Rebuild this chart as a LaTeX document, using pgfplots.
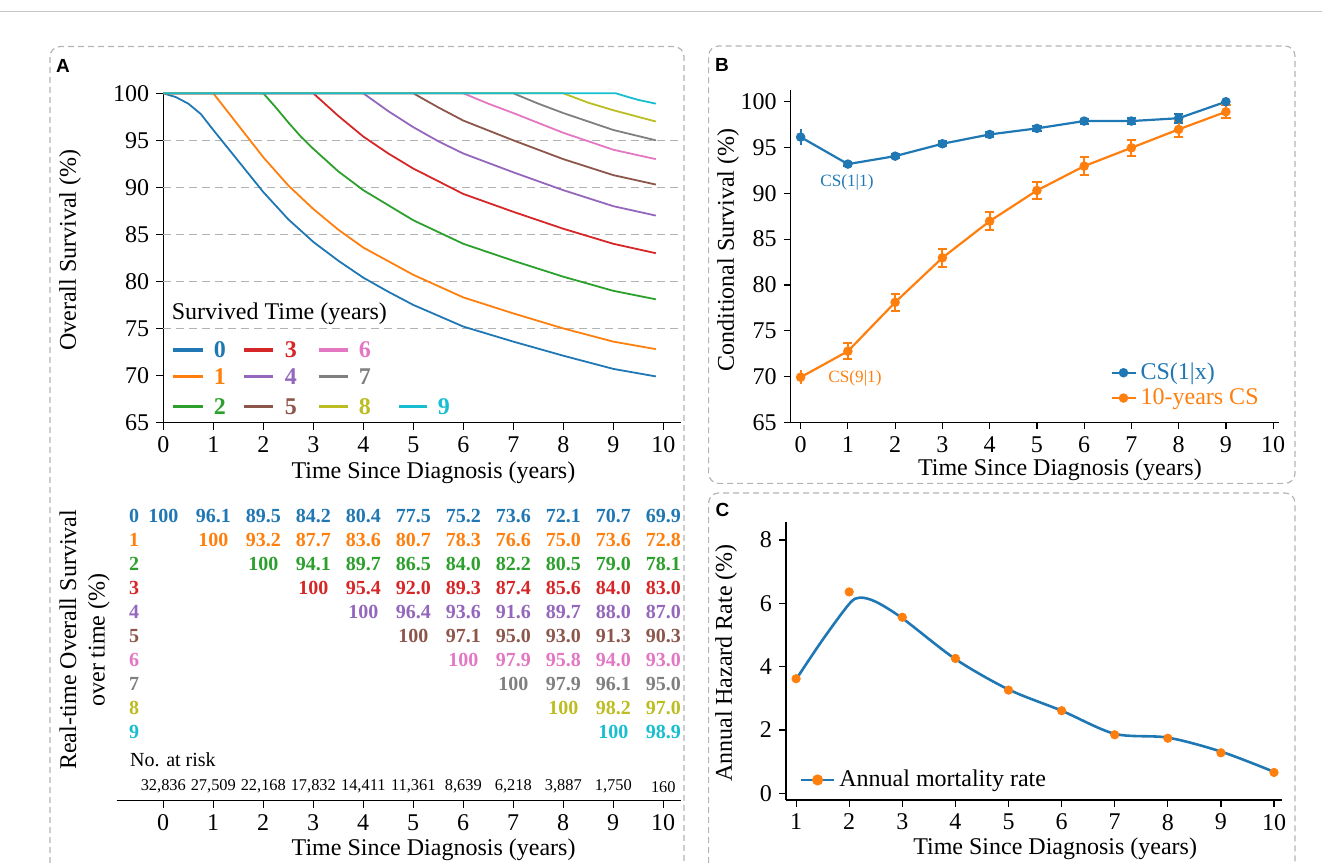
\documentclass[border=0pt]{standalone}
\usepackage{fontspec}
\setmainfont{Liberation Serif}
\newfontfamily\panelfont{Liberation Sans}
\usepackage{pgfplots}
\pgfplotsset{compat=1.18}
\definecolor{c0}{HTML}{1F77B4}
\definecolor{c1}{HTML}{FF7F0E}
\definecolor{c2}{HTML}{2CA02C}
\definecolor{c3}{HTML}{D62728}
\definecolor{c4}{HTML}{9467BD}
\definecolor{c5}{HTML}{8C564B}
\definecolor{c6}{HTML}{E377C2}
\definecolor{c7}{HTML}{7F7F7F}
\definecolor{c8}{HTML}{BCBD22}
\definecolor{c9}{HTML}{17BECF}
\definecolor{cB}{HTML}{1F77B4}
\definecolor{cO}{HTML}{FF7F0E}
\definecolor{framegray}{HTML}{B4B4B4}
\pgfplotsset{
  myaxis/.style={scale only axis, anchor=south west,
    axis x line*=bottom, axis y line*=left,
    axis line style={-, line width=0.7pt},
    tick align=outside, major tick length=3.5pt,
    tick style={black, line width=0.6pt},
    /pgf/number format/assume math mode=true,
    tick label style={font=\fontsize{12}{14}\selectfont},
    label style={font=\fontsize{12}{14}\selectfont},
    clip=false},
  ebar/.style={only marks, mark=*, mark size=1.8pt, forget plot,
    error bars/.cd, y dir=both, y explicit,
    error bar style={line width=1pt, solid},
    error mark=-, error mark options={line width=1pt, mark size=2.3pt, rotate=90}},
  ebarnocap/.style={only marks, mark=*, mark size=1.8pt, forget plot,
    error bars/.cd, y dir=both, y explicit,
    error bar style={line width=1pt, solid}, error mark=none},
}
\begin{document}
\begin{tikzpicture}
\useasboundingbox (0,0) rectangle (661pt,431.5pt);
% top rule and frames
\draw[black!22, line width=0.5pt] (0,425.5pt) -- (661pt,425.5pt);
\draw[framegray, line width=0.6pt, dash pattern=on 3pt off 2pt, rounded corners=5pt] (25pt,-5pt) -- (25pt,408.2pt) -- (342pt,408.2pt) -- (342pt,-5pt);
\draw[framegray, line width=0.6pt, dash pattern=on 3pt off 2pt, rounded corners=5pt] (354.3pt,189.8pt) rectangle (647.5pt,408.5pt);
\draw[framegray, line width=0.6pt, dash pattern=on 3pt off 2pt, rounded corners=5pt] (354.3pt,-5pt) -- (354.3pt,185pt) -- (647.5pt,185pt) -- (647.5pt,-5pt);
\node[font=\panelfont\bfseries\fontsize{9.5}{11}\selectfont] at (31.5pt,398.5pt) {A};
\node[font=\panelfont\bfseries\fontsize{9.5}{11}\selectfont] at (361pt,399pt) {B};
\node[font=\panelfont\bfseries\fontsize{9.5}{11}\selectfont] at (361.3pt,176.5pt) {C};

% ---------------- Panel A (survival curves)
\begin{axis}[myaxis, at={(81.65pt,220.25pt)}, width=258.75pt, height=164.6pt,
  xmin=0, xmax=10.35, ymin=65, ymax=100,
  xtick={0,...,10}, ytick={65,70,...,100},
  extra y ticks={75,80,85,90,95}, extra y tick labels={},
  extra y tick style={grid=major, major tick length=0pt,
     major grid style={dash pattern=on 4pt off 2.5pt, black!30, line width=0.6pt}},
  xlabel={Time Since Diagnosis (years)}, ylabel={Overall Survival (\%)},
  xlabel style={at={(axis description cs:0.522,-0.153)}, anchor=center},
  ylabel style={at={(axis description cs:-0.180,0.524)}, anchor=center}]
\addplot[c0, line width=0.9pt] coordinates {(0,100)(0.25,99.6)(0.5,98.9)(0.75,97.8)(1,96.1)(1.5,92.8)(2,89.5)(2.5,86.6)(3,84.2)(3.5,82.2)(4,80.4)(4.5,78.9)(5,77.5)(6,75.2)(7,73.6)(8,72.1)(9,70.7)(9.85,69.9)};
\addplot[c1, line width=0.9pt] coordinates {(0,100)(1,100)(1.25,98.3)(1.5,96.6)(1.75,94.9)(2,93.2)(2.5,90.2)(3,87.7)(3.5,85.5)(4,83.6)(5,80.7)(6,78.3)(7,76.6)(8,75.0)(9,73.6)(9.85,72.8)};
\addplot[c2, line width=0.9pt] coordinates {(0,100)(2,100)(2.25,98.5)(2.5,96.9)(2.75,95.4)(3,94.1)(3.5,91.7)(4,89.7)(5,86.5)(6,84.0)(7,82.2)(8,80.5)(9,79.0)(9.85,78.1)};
\addplot[c3, line width=0.9pt] coordinates {(0,100)(3,100)(3.5,97.6)(4,95.4)(4.5,93.6)(5,92.0)(6,89.3)(7,87.4)(8,85.6)(9,84.0)(9.85,83.0)};
\addplot[c4, line width=0.9pt] coordinates {(0,100)(4,100)(4.5,98.1)(5,96.4)(5.5,94.9)(6,93.6)(7,91.6)(8,89.7)(9,88.0)(9.85,87.0)};
\addplot[c5, line width=0.9pt] coordinates {(0,100)(5,100)(5.5,98.5)(6,97.1)(7,95.0)(8,93.0)(9,91.3)(9.85,90.3)};
\addplot[c6, line width=0.9pt] coordinates {(0,100)(6,100)(6.5,98.9)(7,97.9)(8,95.8)(9,94.0)(9.85,93.0)};
\addplot[c7, line width=0.9pt] coordinates {(0,100)(7,100)(7.5,98.9)(8,97.9)(9,96.1)(9.85,95.0)};
\addplot[c8, line width=0.9pt] coordinates {(0,100)(8,100)(8.5,99.0)(9,98.2)(9.85,97.0)};
\addplot[c9, line width=0.9pt] coordinates {(0,100)(9.05,100)(9.3,99.6)(9.5,99.3)(9.85,98.9)};
% legend (survived time)
\node[anchor=west, font=\fontsize{12}{14}\selectfont, inner sep=0pt] at (axis cs:0.164,76.61) {Survived Time (years)};
\draw[c0, line width=1.6pt] (axis cs:0.188,72.71) -- (axis cs:0.802,72.71);
\draw[c1, line width=1.6pt] (axis cs:0.188,69.87) -- (axis cs:0.802,69.87);
\draw[c2, line width=1.6pt] (axis cs:0.188,66.68) -- (axis cs:0.802,66.68);
\draw[c3, line width=1.6pt] (axis cs:1.62,72.71) -- (axis cs:2.19,72.71);
\draw[c4, line width=1.6pt] (axis cs:1.62,69.87) -- (axis cs:2.19,69.87);
\draw[c5, line width=1.6pt] (axis cs:1.62,66.68) -- (axis cs:2.19,66.68);
\draw[c6, line width=1.6pt] (axis cs:3.11,72.71) -- (axis cs:3.69,72.71);
\draw[c7, line width=1.6pt] (axis cs:3.11,69.87) -- (axis cs:3.69,69.87);
\draw[c8, line width=1.6pt] (axis cs:3.11,66.68) -- (axis cs:3.69,66.68);
\draw[c9, line width=1.6pt] (axis cs:4.71,66.68) -- (axis cs:5.27,66.68);
\node[text=c0, font=\bfseries\fontsize{12}{14}\selectfont] at (axis cs:1.13,72.71) {0};
\node[text=c1, font=\bfseries\fontsize{12}{14}\selectfont] at (axis cs:1.13,69.87) {1};
\node[text=c2, font=\bfseries\fontsize{12}{14}\selectfont] at (axis cs:1.13,66.68) {2};
\node[text=c3, font=\bfseries\fontsize{12}{14}\selectfont] at (axis cs:2.55,72.71) {3};
\node[text=c4, font=\bfseries\fontsize{12}{14}\selectfont] at (axis cs:2.55,69.87) {4};
\node[text=c5, font=\bfseries\fontsize{12}{14}\selectfont] at (axis cs:2.55,66.68) {5};
\node[text=c6, font=\bfseries\fontsize{12}{14}\selectfont] at (axis cs:4.03,72.71) {6};
\node[text=c7, font=\bfseries\fontsize{12}{14}\selectfont] at (axis cs:4.03,69.87) {7};
\node[text=c8, font=\bfseries\fontsize{12}{14}\selectfont] at (axis cs:4.03,66.68) {8};
\node[text=c9, font=\bfseries\fontsize{12}{14}\selectfont] at (axis cs:5.61,66.68) {9};
\end{axis}

% ---------------- Panel A lower axis (table)
\begin{axis}[myaxis, at={(58.35pt,31.15pt)}, width=282pt, height=10pt,
  xmin=-0.93, xmax=10.35, ymin=0, ymax=1, axis y line=none,
  xtick={0,...,10},
  xlabel={Time Since Diagnosis (years)},
  xlabel style={at={(axis description cs:0.5619,-2.465)}, anchor=center}]
\end{axis}
\foreach \r/\vals in {0/{100,96.1,89.5,84.2,80.4,77.5,75.2,73.6,72.1,70.7,69.9},
  1/{100,93.2,87.7,83.6,80.7,78.3,76.6,75.0,73.6,72.8},
  2/{100,94.1,89.7,86.5,84.0,82.2,80.5,79.0,78.1},
  3/{100,95.4,92.0,89.3,87.4,85.6,84.0,83.0},
  4/{100,96.4,93.6,91.6,89.7,88.0,87.0},
  5/{100,97.1,95.0,93.0,91.3,90.3},
  6/{100,97.9,95.8,94.0,93.0},
  7/{100,97.9,96.1,95.0},
  8/{100,98.2,97.0},
  9/{100,98.9}}{
  \node[text=c\r, font=\bfseries\fontsize{10}{11}\selectfont] at (67pt,{(173.5-12*\r)*1pt}) {\r};
  \foreach \v [count=\i from 0] in \vals {
    \node[text=c\r, font=\bfseries\fontsize{10}{11}\selectfont] at ({(81.65+25*(\r+\i))*1pt},{(173.5-12*\r)*1pt}) {\v};
  }
}
\node[anchor=west, font=\fontsize{10}{12}\selectfont, inner sep=0pt] at (64.9pt,51.85pt) {No. at risk};
\foreach \v [count=\i from 0] in {32{,}836,27{,}509,22{,}168,17{,}832,14{,}411,11{,}361,8{,}639,6{,}218,3{,}887,1{,}750,160}{
  \node[font=\fontsize{8.2}{10}\selectfont] at ({(81.65+25*\i)*1pt},38.1pt) {\v};
}
\node[rotate=90, align=center, font=\fontsize{12}{14.3}\selectfont] at (42.3pt,111.5pt) {Real-time Overall Survival\\over time (\%)};

% ---------------- Panel B
\begin{axis}[myaxis, at={(395.35pt,220.35pt)}, width=244.3pt, height=166.1pt,
  xmin=-0.21, xmax=10.13, ymin=65, ymax=101.27,
  xtick={0,...,10}, ytick={65,70,...,100},
  xlabel={Time Since Diagnosis (years)}, ylabel={Conditional Survival (\%)},
  xlabel style={at={(axis description cs:0.551,-0.1436)}, anchor=center},
  ylabel style={at={(axis description cs:-0.128,0.519)}, anchor=center},
  legend style={at={(axis description cs:0.6535,0.192)}, anchor=north west, draw=none, fill=none,
     font=\fontsize{12}{14}\selectfont, row sep=-1pt, inner sep=0pt},
  legend cell align=left,
  legend image code/.code={\draw[mark repeat=2,mark phase=2,#1] plot coordinates {(0pt,0pt) (6pt,0pt) (12pt,0pt)};}]
\addplot[cB, line width=1.1pt, mark=*, mark size=1.8pt] coordinates {(0,96.14)(1,93.19)(2,94.06)(3,95.41)(4,96.43)(5,97.09)(6,97.89)(7,97.89)(8,98.2)(9,100)};
\addlegendentry{\textcolor{cB}{CS(1|x)}}
\addplot[cO, line width=1.1pt, mark=*, mark size=1.8pt] coordinates {(0,69.92)(1,72.76)(2,78.1)(3,82.96)(4,86.96)(5,90.31)(6,92.97)(7,94.97)(8,96.98)(9,98.9)};
\addlegendentry{\textcolor{cO}{10-years CS}}
\addplot[cB, ebar]
  coordinates {(1,93.19) +- (0,0.25) (2,94.06) +- (0,0.25) (3,95.41) +- (0,0.25) (4,96.43) +- (0,0.3) (5,97.09) +- (0,0.27) (6,97.89) +- (0,0.27) (7,97.89) +- (0,0.35) (8,98.2) +- (0,0.47)};
\addplot[cB, ebarnocap] coordinates {(0,96.14) +- (0,0.9)};
\addplot[cO, ebar]
  coordinates {(1,72.76) +- (0,0.9) (2,78.1) +- (0,0.95) (3,82.96) +- (0,0.97) (4,86.96) +- (0,1.0) (5,90.31) +- (0,0.98) (6,92.97) +- (0,0.97) (7,94.97) +- (0,0.9) (8,96.98) +- (0,0.87) (9,98.9) +- (0,0.73)};
\addplot[cO, ebarnocap] coordinates {(0,69.92) +- (0,0.75)};
\node[text=cB, font=\fontsize{8.6}{10}\selectfont] at (axis cs:0.98,91.16) {CS(1|1)};
\node[text=cO, font=\fontsize{8.6}{10}\selectfont] at (axis cs:1.15,69.8) {CS(9|1)};
\end{axis}

% ---------------- Panel C
\begin{axis}[myaxis, at={(393pt,31.5pt)}, width=247.85pt, height=139.2pt,
  xmin=0.81, xmax=10.145, ymin=-0.21, ymax=8.58,
  xtick={1,...,10}, ytick={0,2,...,8},
  xlabel={Time Since Diagnosis (years)}, ylabel={Annual Hazard Rate (\%)},
  xlabel style={at={(axis description cs:0.543,-0.1735)}, anchor=center},
  ylabel style={at={(axis description cs:-0.121,0.492)}, anchor=center},
  legend style={at={(axis description cs:0.027,0.072)}, anchor=west, draw=none, fill=none,
     font=\fontsize{12}{14}\selectfont, inner sep=0pt},
  legend cell align=left,
  legend image code/.code={\draw[mark repeat=2,mark phase=2,#1] plot coordinates {(0pt,0pt) (8.25pt,0pt) (16.5pt,0pt)};}]
\addplot[cB, line width=1.3pt, smooth, tension=0.5, forget plot] coordinates {(1,3.6)(1.5,4.85)(2,5.98)(2.2,6.18)(2.5,6.05)(3,5.53)(4,4.24)(5,3.28)(6,2.61)(7,1.88)(8,1.76)(9,1.32)(10,0.68)};
\addplot[cO, only marks, mark=*, mark size=2.1pt, forget plot] coordinates {(1,3.62)(2,6.36)(3,5.56)(4,4.26)(5,3.26)(6,2.61)(7,1.85)(8,1.74)(9,1.28)(10,0.66)};
\addlegendimage{cB, line width=1.3pt, mark=*, mark size=2.1pt, mark options={cO, fill=cO, draw=cO}}
\addlegendentry{Annual mortality rate}
\end{axis}
\end{tikzpicture}
\end{document}
